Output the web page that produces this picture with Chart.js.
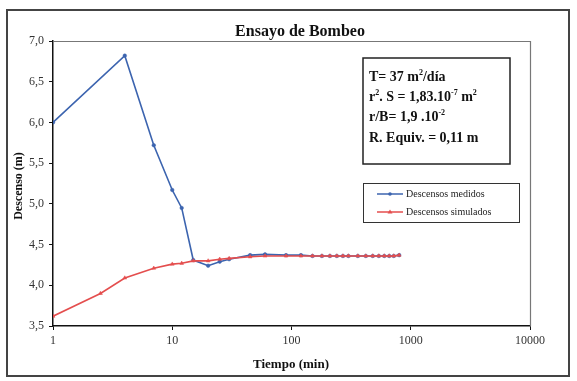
<!DOCTYPE html>
<html><head><meta charset="utf-8">
<script src="https://cdn.jsdelivr.net/npm/chart.js@4/dist/chart.umd.min.js"></script>
<style>html,body{margin:0;padding:0;background:#fff}#wrap{width:577px;height:381px;position:relative}</style>
</head><body><div id="wrap"><canvas id="c" width="577" height="381"></canvas></div>
<script>
const tiempoMedido = [1,4,7,10,12,15,20,25,30,45,60,90,120,150,180,210,240,270,300,360,420,480,540,600,660,720,800];
const descensoMedido = [6.00,6.82,5.72,5.17,4.95,4.31,4.24,4.29,4.32,4.37,4.38,4.37,4.37,4.36,4.36,4.36,4.36,4.36,4.36,4.36,4.36,4.36,4.36,4.36,4.36,4.36,4.37];
const tiempoSimulado = [1,2.5,4,7,10,12,15,20,25,30,45,60,90,120,150,180,210,240,270,300,360,420,480,540,600,660,720,800];
const descensoSimulado = [3.62,3.90,4.09,4.21,4.26,4.27,4.30,4.30,4.32,4.33,4.35,4.36,4.36,4.36,4.36,4.36,4.36,4.36,4.36,4.36,4.36,4.36,4.36,4.36,4.36,4.36,4.36,4.37];
const xTicks = [1,10,100,1000,10000];
const yTicks = [3.5,4.0,4.5,5.0,5.5,6.0,6.5,7.0];
const titulo = "Ensayo de Bombeo";
const tituloY = "Descenso (m)";
const tituloX = "Tiempo (min)";
const serieNombres = ["Descensos medidos","Descensos simulados"];

const BLUE = "rgb(60,100,175)";
const RED = "rgb(228,78,78)";
const SERIF = "'Liberation Serif','DejaVu Serif',serif";

function pts(xs, ys){ return xs.map((x,i)=>({x:x,y:ys[i]})); }

function rich(ctx, segs, x, y, size){
  let cx = x;
  for (const s of segs){
    const sup = s.sup;
    const fs = sup ? Math.round(size*0.6) : size;
    ctx.font = "bold " + fs + "px " + SERIF;
    ctx.fillText(s.t, cx, sup ? y - size*0.4 : y);
    cx += ctx.measureText(s.t).width;
  }
}

const decor = {
  id:'decor',
  beforeDraw(chart){
    const ctx = chart.ctx;
    ctx.save();
    ctx.fillStyle = '#fff';
    ctx.fillRect(0,0,chart.width,chart.height);
    ctx.restore();
  },
  afterDraw(chart){
    const ctx = chart.ctx, a = chart.chartArea;
    ctx.save();
    // outer frame
    ctx.strokeStyle = '#444'; ctx.lineWidth = 2;
    ctx.strokeRect(7,10,562,366);
    // plot area border (top/right)
    ctx.strokeStyle = '#777'; ctx.lineWidth = 1.2;
    ctx.beginPath(); ctx.moveTo(a.left, a.top+0.5); ctx.lineTo(a.right+0.5, a.top+0.5); ctx.lineTo(a.right+0.5, a.bottom); ctx.stroke();
    // title
    ctx.fillStyle = '#111'; ctx.textBaseline = 'alphabetic'; ctx.textAlign = 'center';
    ctx.font = "bold 16px " + SERIF;
    ctx.fillText(titulo, 300, 36);
    // axis titles
    ctx.font = "bold 13px " + SERIF;
    ctx.fillText(tituloX, 291, 368);
    ctx.font = "bold 12px " + SERIF;
    ctx.save(); ctx.translate(22, 186); ctx.rotate(-Math.PI/2);
    ctx.fillText(tituloY, 0, 0); ctx.restore();
    // annotation box
    ctx.strokeStyle = '#222'; ctx.lineWidth = 1.5;
    ctx.strokeRect(363,58,147,106);
    ctx.textAlign = 'left'; ctx.fillStyle = '#111';
    rich(ctx,[{t:"T= 37 m"},{t:"2",sup:1},{t:"/día"}],369,81,14);
    rich(ctx,[{t:"r"},{t:"2",sup:1},{t:". S = 1,83.10"},{t:"-7",sup:1},{t:" m"},{t:"2",sup:1}],369,101,14);
    rich(ctx,[{t:"r/B= 1,9 .10"},{t:"-2",sup:1}],369,121,14);
    rich(ctx,[{t:"R. Equiv. = 0,11 m"}],369,142,14);
    // legend
    ctx.strokeStyle = '#333'; ctx.lineWidth = 1;
    ctx.strokeRect(363.5,183.5,156,39);
    const items = [[BLUE,'circle'],[RED,'triangle']];
    ctx.font = "10px " + SERIF;
    ctx.textBaseline = 'middle';
    items.forEach((it,i)=>{
      const yy = 194 + i*18;
      ctx.strokeStyle = it[0]; ctx.fillStyle = it[0]; ctx.lineWidth = 1.5;
      ctx.beginPath(); ctx.moveTo(377,yy); ctx.lineTo(403,yy); ctx.stroke();
      if (it[1]==='circle'){ ctx.beginPath(); ctx.arc(390,yy,1.8,0,Math.PI*2); ctx.fill(); }
      else { ctx.beginPath(); ctx.moveTo(390,yy-2.5); ctx.lineTo(392.5,yy+1.5); ctx.lineTo(387.5,yy+1.5); ctx.closePath(); ctx.fill(); }
      ctx.fillStyle = '#222';
      ctx.fillText(serieNombres[i], 406, yy);
    });
    ctx.restore();
  }
};

new Chart(document.getElementById('c'), {
  type:'scatter',
  data:{datasets:[
    {label:serieNombres[0], order:1, data:pts(tiempoMedido,descensoMedido), showLine:true, borderColor:BLUE, backgroundColor:BLUE, borderWidth:1.6, pointRadius:1.8, pointStyle:'circle', pointBorderWidth:0.5},
    {label:serieNombres[1], order:0, data:pts(tiempoSimulado,descensoSimulado), showLine:true, borderColor:RED, backgroundColor:RED, borderWidth:1.6, pointRadius:2.2, pointStyle:'triangle', pointBorderWidth:0.5}
  ]},
  options:{
    responsive:false, animation:false, devicePixelRatio:1,
    layout:{padding:{left:0,right:47,top:41,bottom:0}},
    plugins:{legend:{display:false}, tooltip:{enabled:false}},
    scales:{
      x:{type:'logarithmic', min:1, max:10000,
        afterBuildTicks(s){ s.ticks = xTicks.map(v=>({value:v})); },
        afterFit(s){ s.height = 55; },
        border:{display:true, color:'#111', width:1.5},
        grid:{drawOnChartArea:false, drawTicks:true, tickLength:4, color:'#111'},
        ticks:{color:'#333', font:{family:SERIF, size:12}, padding:4, maxRotation:0, autoSkip:false,
          callback:(v)=> String(v)}
      },
      y:{type:'linear', min:3.5, max:7.0,
        afterBuildTicks(s){ s.ticks = yTicks.map(v=>({value:v})); },
        afterFit(s){ s.width = 53; },
        border:{display:true, color:'#111', width:1.5},
        grid:{drawOnChartArea:false, drawTicks:true, tickLength:4, color:'#111'},
        ticks:{color:'#333', font:{family:SERIF, size:12}, padding:5,
          callback:(v)=> Number(v).toFixed(1).replace('.',',')}
      }
    }
  },
  plugins:[decor]
});
</script></body></html>
